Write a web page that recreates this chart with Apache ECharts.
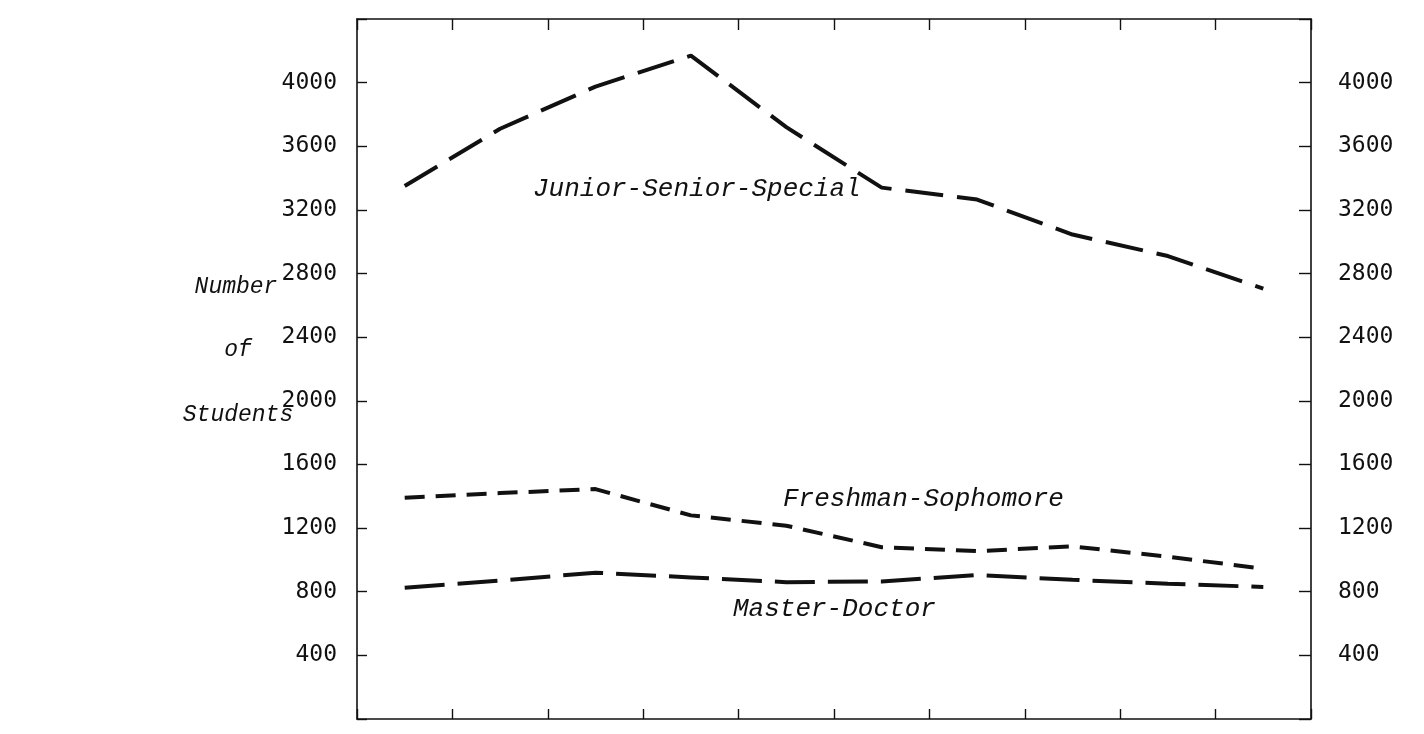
<!DOCTYPE html>
<html>
<head>
<meta charset="utf-8">
<script src="https://cdn.jsdelivr.net/npm/echarts@6/dist/echarts.min.js"></script>
<style>
html,body{margin:0;padding:0;background:#fff;}
#chart{width:1424px;height:734px;}
</style>
</head>
<body>
<div id="chart"></div>
<script>
// Data (10 periods, unlabeled in the original)
const categories = ['P1','P2','P3','P4','P5','P6','P7','P8','P9','P10'];
const juniorSeniorSpecial = [3350, 3710, 3975, 4170, 3720, 3340, 3265, 3045, 2910, 2705];
const freshmanSophomore   = [1390, 1420, 1445, 1280, 1215, 1080, 1055, 1085, 1020, 945];
const masterDoctor        = [825, 870, 920, 890, 860, 865, 905, 875, 850, 830];
const yTicks = [400, 800, 1200, 1600, 2000, 2400, 2800, 3200, 3600, 4000];
const seriesNames = ['Junior-Senior-Special', 'Freshman-Sophomore', 'Master-Doctor'];
const axisTitleLines = ['Number', 'of', 'Students'];

const chart = echarts.init(document.getElementById('chart'), null, {renderer: 'canvas'});
const ink = '#111';
const tickFont = {color: ink, fontFamily: 'DejaVu Sans Mono', fontSize: 23};
const labelFont = {fill: ink, fontFamily: 'Liberation Mono', fontStyle: 'italic', fontSize: 26};
const titleFont = {fill: ink, fontFamily: 'Liberation Mono', fontStyle: 'italic', fontSize: 23, align: 'center', verticalAlign: 'middle'};

function yLabel(v) { return yTicks.indexOf(v) >= 0 ? String(v) : ''; }

const tickStyle = {color: ink, width: 1.4};

const option = {
  animation: false,
  backgroundColor: '#fff',
  grid: {left: 357, right: 113, top: 19, bottom: 15, containLabel: false},
  xAxis: [
    {type: 'category', data: categories, position: 'bottom', boundaryGap: true,
     axisLine: {show: true, onZero: false, lineStyle: {color: ink, width: 1.6}},
     axisTick: {show: true, inside: true, length: 10, lineStyle: tickStyle},
     axisLabel: {show: false}, splitLine: {show: false}},
    {type: 'category', data: categories, position: 'top', boundaryGap: true,
     axisLine: {show: true, onZero: false, lineStyle: {color: ink, width: 1.6}},
     axisTick: {show: true, inside: true, length: 11, lineStyle: tickStyle},
     axisLabel: {show: false}, splitLine: {show: false}}
  ],
  yAxis: [
    {type: 'value', position: 'left', min: 0, max: 4400, interval: 400,
     axisLine: {show: true, onZero: false, lineStyle: {color: ink, width: 1.6}},
     axisTick: {show: true, inside: true, length: 10, lineStyle: tickStyle},
     axisLabel: Object.assign({margin: 20, formatter: yLabel}, tickFont),
     splitLine: {show: false}},
    {type: 'value', position: 'right', min: 0, max: 4400, interval: 400,
     axisLine: {show: true, onZero: false, lineStyle: {color: ink, width: 1.6}},
     axisTick: {show: true, inside: true, length: 12, lineStyle: tickStyle},
     axisLabel: Object.assign({margin: 27, formatter: yLabel}, tickFont),
     splitLine: {show: false}}
  ],
  series: [
    {name: seriesNames[0], type: 'line', data: juniorSeniorSpecial, symbol: 'none',
     lineStyle: {color: ink, width: 4, type: [38, 14]}},
    {name: seriesNames[1], type: 'line', data: freshmanSophomore, symbol: 'none',
     lineStyle: {color: ink, width: 4, type: [20, 11]}},
    {name: seriesNames[2], type: 'line', data: masterDoctor, symbol: 'none',
     lineStyle: {color: ink, width: 4, type: [40, 13]}}
  ],
  graphic: [
    {type: 'text', left: 533, top: 176, style: Object.assign({text: seriesNames[0]}, labelFont)},
    {type: 'text', left: 783, top: 486, style: Object.assign({text: seriesNames[1]}, labelFont)},
    {type: 'text', left: 733, top: 596, style: Object.assign({text: seriesNames[2]}, labelFont)},
    {type: 'text', x: 236, y: 287, style: Object.assign({text: axisTitleLines[0]}, titleFont)},
    {type: 'text', x: 238, y: 350, style: Object.assign({text: axisTitleLines[1]}, titleFont)},
    {type: 'text', x: 238, y: 415, style: Object.assign({text: axisTitleLines[2]}, titleFont)}
  ]
};
chart.setOption(option);
</script>
</body>
</html>
